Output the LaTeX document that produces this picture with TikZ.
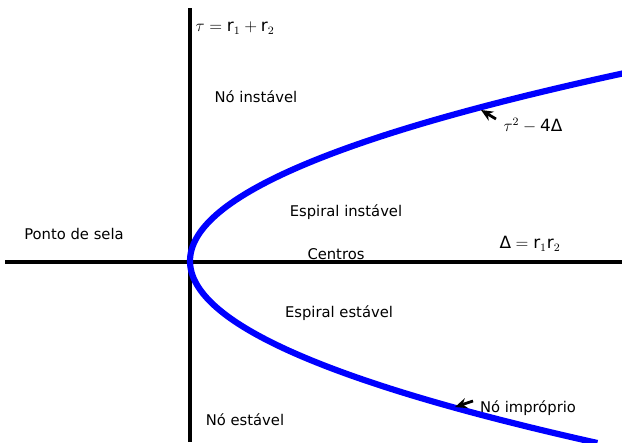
\documentclass[tikz,border=0pt]{standalone}
\usepackage{amsmath}
\usepackage{fontspec}
\setmainfont{DejaVu Sans}
\usetikzlibrary{arrows.meta}
\definecolor{cCurve}{HTML}{0000FF}
\tikzset{
  axis/.style ={line width=2.2pt, draw=black},
  curve/.style={line width=4.4pt, draw=cCurve},
  lbl/.style  ={inner sep=1pt, font=\fontsize{10.5}{12}\selectfont},
  mlbl/.style ={inner sep=1pt, font=\large},
  fl/.style   ={-{Stealth[length=3mm,width=2.6mm]}, line width=2pt, draw=black},
}

\begin{document}
\begin{tikzpicture}[x=0.025cm,y=-0.025cm]
  \useasboundingbox (0,0) rectangle (622,442);
  % axes
  \coordinate (tTop) at (190,8);   \coordinate (tBot) at (190,442);
  \coordinate (dL)   at (5,262);   \coordinate (dR)   at (622,262);
  \draw[axis] (tTop) -- (tBot);
  \draw[axis] (dL) -- (dR);
  % parabola tau^2 = 4 Delta
  \draw[curve] plot[domain=-18.8:18.2, samples=120, smooth]
        ({190+1.23*\x*\x},{261+10*\x});

  \node[mlbl,anchor=west] (tau)   at (194,28)  {$\tau = \text{r}_1 + \text{r}_2$};
  \node[lbl]              (noi)   at (256,97)  {Nó instável};
  \node[mlbl]             (disc)  at (533,126) {$\tau^2 - \text{4Δ}$};
  \node[lbl]              (espi)  at (346,212) {Espiral instável};
  \node[lbl]              (sela)  at (74,234)  {Ponto de sela};
  \node[lbl]              (cen)   at (336,254) {Centros};
  \node[mlbl]             (delta) at (530,244) {$\text{Δ} = \text{r}_1\text{r}_2$};
  \node[lbl]              (espe)  at (339,313) {Espiral estável};
  \node[lbl]              (nimp)  at (528,408) {Nó impróprio};
  \node[lbl]              (noe)   at (245,420) {Nó estável};

  % pointers to the curve
  \coordinate (pU) at (481,110);  \coordinate (pL) at (455,407);
  \coordinate (sU) at (496,119);  \coordinate (sL) at (473,401);
  \draw[fl] (sU) -- (pU);
  \draw[fl] (sL) -- (pL);
\end{tikzpicture}
\end{document}
